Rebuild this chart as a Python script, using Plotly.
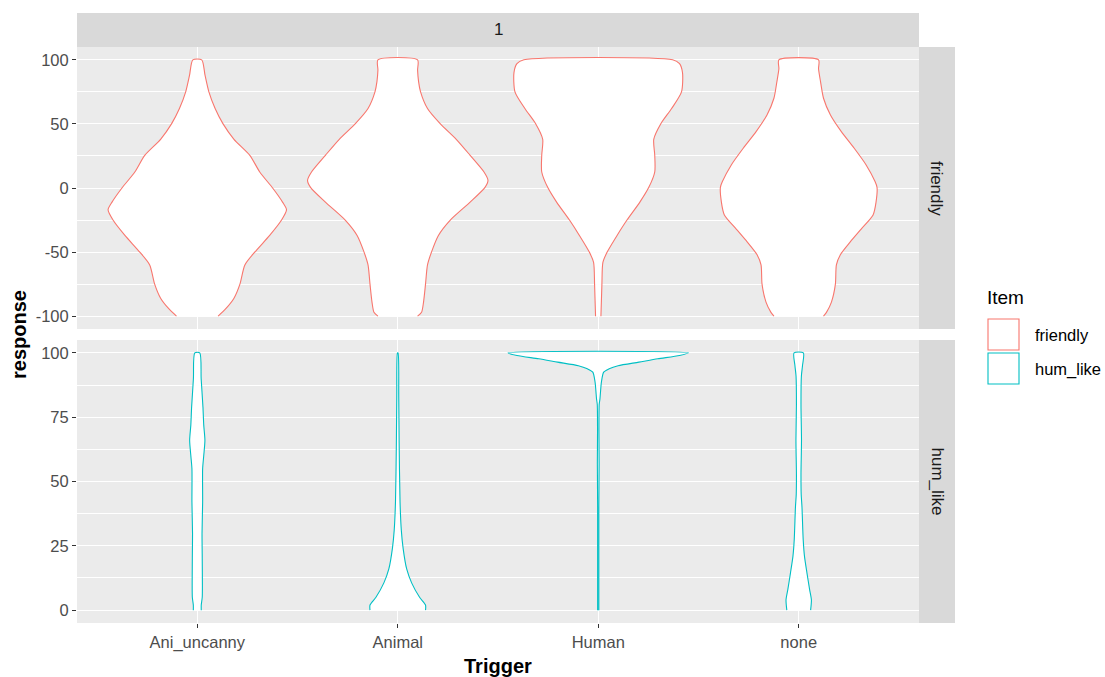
import plotly.graph_objects as go

# ---------------- data ----------------
triggers = ["Ani_uncanny", "Animal", "Human", "none"]
items = ["friendly", "hum_like"]
item_colors = ["#F8766D", "#00BFC4"]
facet_label = "1"

# friendly: response levels and relative density (arbitrary units)
fr_ani_y = [-100, -94, -86, -75, -60, -50, -37, -25, -17, -11, 0, 12.5, 25.5, 38, 50, 62, 75, 88, 100]
fr_ani_d = [21, 29, 37, 43, 48, 58, 73, 85, 90, 86, 76, 63, 53, 37, 26, 18, 11.7, 7.8, 4.5]

fr_animal_y = [-100, -97, -89, -75, -60, -50, -37, -25, -11, 0.5, 6, 12.5, 25.5, 38, 50, 62, 75, 83, 92, 100]
fr_animal_d = [20, 24, 26, 28, 30, 34, 41, 53, 73, 88, 91, 87, 73, 59, 43, 30, 23, 21, 20, 20]

fr_human_y = [-100, -75, -58, -50, -37, -25, -11, 0.5, 12.5, 25.5, 38, 50, 62, 75, 90, 97, 100]
fr_human_d = [2.7, 3.7, 4.7, 9, 19, 29, 42, 51, 57, 57, 56, 63, 74, 84, 85, 82, 75]

fr_none_y = [-100, -97, -89, -75, -60, -52, -42, -32, -21, -11, 0.5, 5, 18, 31, 44, 57, 70, 83, 93, 100]
fr_none_d = [25, 28, 33, 37, 38, 42, 52, 63, 75, 78, 79, 77, 68, 56, 43, 32, 25, 22, 20, 20]

# hum_like
hl_ani_y = [0, 2, 5, 20, 30, 42, 55, 60, 66, 72, 79, 90, 100]
hl_ani_d = [4, 4, 5, 5, 4.8, 5.4, 5.4, 6.5, 7.7, 6.5, 5.7, 3.9, 2.5]

hl_animal_y = [0, 2, 5, 10.6, 16, 24, 31, 42, 65, 83, 100]
hl_animal_d = [28, 28, 22, 14, 9, 5.4, 3.6, 2.3, 1.4, 1.0, 0.3]

hl_human_y = [0, 40, 57, 70, 80, 82, 88.6, 92.5, 93.8, 95, 96.4, 97.7, 99, 100]
hl_human_d = [0.6, 0.6, 0.9, 0.7, 1.0, 1.7, 3.2, 5.5, 11, 20, 41, 60, 82, 91]

hl_none_y = [0, 4, 8, 14.5, 21, 27.5, 40, 45, 53, 66, 80, 91, 95, 100]
hl_none_d = [12, 12.8, 11, 8.3, 5.8, 4.5, 3.3, 2.5, 2.3, 2.8, 2.3, 2.7, 3.8, 4.7]

friendly_profiles = [(fr_ani_y, fr_ani_d), (fr_animal_y, fr_animal_d),
                     (fr_human_y, fr_human_d), (fr_none_y, fr_none_d)]
humlike_profiles = [(hl_ani_y, hl_ani_d), (hl_animal_y, hl_animal_d),
                    (hl_human_y, hl_human_d), (hl_none_y, hl_none_d)]

top_ticks = [-100, -50, 0, 50, 100]
top_tick_text = ["-100", "-50", "0", "50", "100"]
top_minor = [-75, -25, 25, 75]
bot_ticks = [0, 25, 50, 75, 100]
bot_tick_text = ["0", "25", "50", "75", "100"]
bot_minor = [12.5, 37.5, 62.5, 87.5]

# ---------------- layout geometry ----------------
W, H = 1105, 677
FONT = "Liberation Sans, Arial, sans-serif"


def px(x):
    return x / W


def py(y):
    return 1 - y / H


PL, PR = 77, 919
TOP_T, TOP_B = 47, 329
BOT_T, BOT_B = 340, 623

fig = go.Figure()

max_w = 0.45  # half of ggplot's default width 0.9


def add_violins(profiles, color, xa, ya):
    m = max(max(d) for _, d in profiles)
    for i, (ys, ds) in enumerate(profiles):
        c = i + 1
        half = [max_w * d / m for d in ds]
        xs = [c + h for h in half] + [c - h for h in reversed(half)]
        yy = list(ys) + list(reversed(ys))
        fig.add_trace(go.Scatter(
            x=xs, y=yy, mode="lines", fill="toself", fillcolor="white",
            line=dict(color=color, width=1.1, shape="spline", smoothing=0.7),
            xaxis=xa, yaxis=ya, showlegend=False, hoverinfo="skip"))


add_violins(friendly_profiles, item_colors[0], "x", "y")
add_violins(humlike_profiles, item_colors[1], "x2", "y2")

TICKFONT = dict(family=FONT, size=16.5, color="#4D4D4D")
xdom = [px(PL), px(PR)]
common_x = dict(range=[0.4, 4.6], tickvals=[1, 2, 3, 4], showgrid=True,
                gridcolor="white", gridwidth=1.1, zeroline=False, showline=False)
common_y = dict(showgrid=True, gridcolor="white", gridwidth=1.1, zeroline=False,
                showline=False, ticks="outside", ticklen=4, tickcolor="#333333",
                tickwidth=1.1, tickfont=TICKFONT)

fig.update_layout(
    width=W, height=H,
    margin=dict(l=0, r=0, t=0, b=0),
    paper_bgcolor="white", plot_bgcolor="#EBEBEB",
    showlegend=False,
    xaxis=dict(domain=xdom, anchor="y", showticklabels=False, ticks="", **common_x),
    yaxis=dict(domain=[py(TOP_B), py(TOP_T)], anchor="x", range=[-110, 110],
               tickvals=top_ticks, ticktext=top_tick_text,
               minor=dict(tickvals=top_minor, showgrid=True, gridcolor="white",
                          gridwidth=0.55, ticks=""),
               **common_y),
    xaxis2=dict(domain=xdom, anchor="y2", ticktext=triggers, ticks="outside",
                ticklen=4, tickcolor="#333333", tickwidth=1.1,
                tickfont=TICKFONT, **common_x),
    yaxis2=dict(domain=[py(BOT_B), py(BOT_T)], anchor="x2", range=[-5, 105],
                tickvals=bot_ticks, ticktext=bot_tick_text,
                minor=dict(tickvals=bot_minor, showgrid=True, gridcolor="white",
                           gridwidth=0.55, ticks=""),
                **common_y),
)

shapes = []
annotations = []
STRIP = "#D9D9D9"
STRIPFONT = dict(family=FONT, size=17, color="#1A1A1A")


def label(x, y, text, font, angle=0, xanchor="center"):
    annotations.append(dict(xref="paper", yref="paper", x=px(x), y=py(y), text=text,
                            textangle=angle, showarrow=False, font=font,
                            xanchor=xanchor, yanchor="middle"))


# top strip
shapes.append(dict(type="rect", xref="paper", yref="paper", x0=px(PL), x1=px(PR),
                   y0=py(47), y1=py(13), fillcolor=STRIP, line=dict(width=0), layer="below"))
label((PL + PR) / 2, 30, facet_label, STRIPFONT)
# right strips
for (t, b), name in zip([(TOP_T, TOP_B), (BOT_T, BOT_B)], items):
    shapes.append(dict(type="rect", xref="paper", yref="paper", x0=px(PR), x1=px(955),
                       y0=py(b), y1=py(t), fillcolor=STRIP, line=dict(width=0), layer="below"))
    label((PR + 955) / 2, (t + b) / 2, name, STRIPFONT, angle=90)

# axis titles
label(19, (TOP_T + BOT_B) / 2, "<b>response</b>", dict(family=FONT, size=20, color="black"), angle=-90)
label((PL + PR) / 2, 666, "<b>Trigger</b>", dict(family=FONT, size=20, color="black"))

# legend
label(985, 298, "Item", dict(family=FONT, size=19, color="black"), xanchor="left")
for k, (name, col) in enumerate(zip(items, item_colors)):
    top = 319 + k * 34
    shapes.append(dict(type="rect", xref="paper", yref="paper", x0=px(988), x1=px(1019),
                       y0=py(top + 31), y1=py(top), fillcolor="white",
                       line=dict(color=col, width=1.1)))
    label(1033, top + 16, name, dict(family=FONT, size=16.5, color="black"), xanchor="left")

fig.update_layout(shapes=shapes, annotations=annotations)
fig.write_html("out.html")
